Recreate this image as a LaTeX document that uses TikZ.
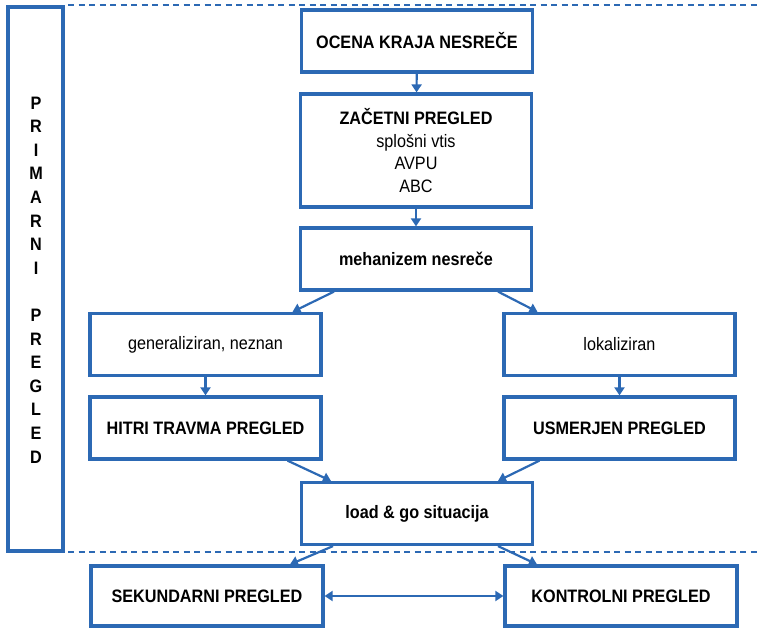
\documentclass[tikz,border=0pt]{standalone}
\usepackage{fontspec}
\setmainfont{Liberation Sans}[FakeStretch=0.9]
\usetikzlibrary{arrows.meta}

\definecolor{flowblue}{HTML}{2C69B4}

\tikzset{
  stagebox/.style={draw=flowblue, line width=3.2pt, fill=white,
    minimum width=231pt, minimum height=62pt, inner sep=0pt,
    align=center, font=\bfseries\fontsize{18}{22.5}\selectfont},
  plainbox/.style={stagebox, font=\fontsize{18}{22.5}\selectfont},
  flow/.style={draw=flowblue, line width=2.2pt,
    -{Triangle[width=10pt,length=8pt]}},
  twoway/.style={draw=flowblue, line width=2.2pt,
    {Triangle[width=10pt,length=8pt]}-{Triangle[width=10pt,length=8pt]}},
  divider/.style={draw=flowblue, line width=2.2pt, dash pattern=on 6pt off 4.5pt}
}

\begin{document}
\begin{tikzpicture}[x=1pt, y=-1pt]
  \useasboundingbox (0,0) rectangle (757,629);

  % section dividers
  \coordinate (topL) at (68,5);
  \coordinate (topR) at (757,5);
  \coordinate (botL) at (68,552);
  \coordinate (botR) at (757,552);
  \draw[divider] (topL) -- (topR);
  \draw[divider] (botL) -- (botR);

  % side label
  \node[draw=flowblue, line width=3.2pt, minimum width=55pt, minimum height=544pt,
        inner sep=0pt] (prim) at (35.5,279) {};
  \node[align=center, font=\bfseries\fontsize{18}{23.6}\selectfont] (primtxt) at (36,280)
    {P\\R\\I\\M\\A\\R\\N\\I\\[23.6pt]P\\R\\E\\G\\L\\E\\D};

  % main flow
  \node[stagebox] (ocena) at (417,41) {OCENA KRAJA NESREČE};
  \node[stagebox, minimum height=113pt, font=\fontsize{18}{22.5}\selectfont] (zac) at (416,150.5)
    {\textbf{ZAČETNI PREGLED}\\splošni vtis\\AVPU\\ABC};
  \node[stagebox] (meh) at (416,259) {mehanizem nesreče};

  \node[plainbox] (gen) at (205.5,344.5) {generaliziran, neznan};
  \node[plainbox] (lok) at (619.5,344.5) {lokaliziran};

  \node[stagebox] (hitri) at (205.5,428) {HITRI TRAVMA PREGLED};
  \node[stagebox] (usm) at (619.5,428) {USMERJEN PREGLED};

  \node[stagebox] (load) at (417,513.5) {load \& go situacija};

  \node[stagebox, minimum width=232pt, minimum height=60pt] (sek) at (207,596) {SEKUNDARNI PREGLED};
  \node[stagebox, minimum width=232pt, minimum height=60pt] (kon) at (621,596) {KONTROLNI PREGLED};

  % connectors
  \draw[flow] (ocena) -- (zac);
  \draw[flow] (zac) -- (meh);
  \draw[flow] ([xshift=-82pt]meh.south) -- ([xshift=87pt]gen.north);
  \draw[flow] ([xshift=82pt]meh.south) -- ([xshift=-82pt]lok.north);
  \draw[flow] (gen) -- (hitri);
  \draw[flow] (lok) -- (usm);
  \draw[flow] ([xshift=82pt]hitri.south) -- ([xshift=-86pt]load.north);
  \draw[flow] ([xshift=-80pt]usm.south) -- ([xshift=81pt]load.north);
  \draw[flow] ([xshift=-84pt]load.south) -- ([xshift=83pt]sek.north);
  \draw[flow] ([xshift=81pt]load.south) -- ([xshift=-84pt]kon.north);
  \draw[twoway] (sek) -- (kon);
\end{tikzpicture}
\end{document}
